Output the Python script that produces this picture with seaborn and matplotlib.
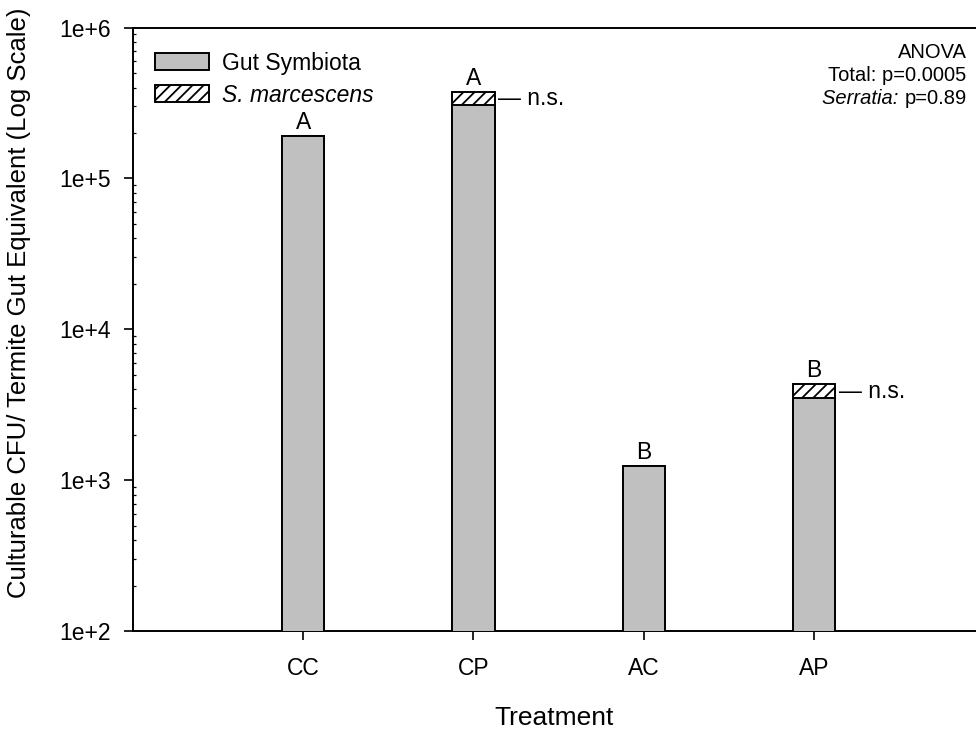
import numpy as np
import pandas as pd
import matplotlib
matplotlib.use("Agg")
import matplotlib.pyplot as plt
from matplotlib.patches import Patch
from matplotlib.ticker import FixedLocator, FuncFormatter, LogLocator
import seaborn as sns

# Culturable CFU per termite gut equivalent, by treatment
treatments = ["CC", "CP", "AC", "AP"]
gut_symbiota = [1.9e5, 3.05e5, 1250, 3500]
s_marcescens = [0, 6.8e4, 0, 830]
letters = ["A", "A", "B", "B"]
ns_flags = [False, True, False, True]

sns.set_style("ticks")
plt.rcParams["font.family"] = ["Liberation Sans", "DejaVu Sans"]
plt.rcParams["text.color"] = "black"
plt.rcParams["axes.labelcolor"] = "black"
plt.rcParams["xtick.color"] = "black"
plt.rcParams["ytick.color"] = "black"
plt.rcParams["axes.edgecolor"] = "black"
plt.rcParams["hatch.linewidth"] = 1.3
plt.rcParams["hatch.color"] = "black"

total = [g + s for g, s in zip(gut_symbiota, s_marcescens)]
df = pd.DataFrame({"Treatment": treatments, "gut": gut_symbiota, "total": total})

fig = plt.figure(figsize=(9.76, 7.34), dpi=100)
ax = fig.add_axes([0.136, 0.1403, 0.864, 0.8222])

GRAY = "#c0c0c0"
BAR_W = 0.25
LW = 1.4
FS = 16.5
HATCH = "///"

# hatched Serratia segment (full stack), then the gut symbiota part over it
sns.barplot(data=df, x="Treatment", y="total", order=treatments, color="white",
            hatch=HATCH, edgecolor="black", linewidth=LW, width=BAR_W,
            saturation=1, ax=ax, zorder=2)
sns.barplot(data=df, x="Treatment", y="gut", order=treatments, color=GRAY,
            edgecolor="black", linewidth=LW, width=BAR_W, saturation=1,
            ax=ax, zorder=3)

ax.set_yscale("log")
ax.set_ylim(1e2, 1e6)
ax.set_xlim(-1, 3.95)

ax.yaxis.set_major_locator(FixedLocator([1e2, 1e3, 1e4, 1e5, 1e6]))
ax.yaxis.set_major_formatter(FuncFormatter(lambda v, _: f"1e+{int(round(np.log10(v)))}"))
ax.yaxis.set_minor_locator(LogLocator(base=10, subs=np.arange(2, 10)))
ax.yaxis.set_minor_formatter(FuncFormatter(lambda v, _: ""))

ax.tick_params(axis="y", which="major", direction="out", length=6.5, width=1.2,
               labelsize=FS, pad=9)
ax.tick_params(axis="y", which="minor", direction="in", length=2.5, width=0.9)
ax.tick_params(axis="x", which="major", direction="out", length=6.5, width=1.2,
               labelsize=FS, pad=12)

for side in ["left", "bottom", "top"]:
    ax.spines[side].set_visible(True)
    ax.spines[side].set_linewidth(1.4)
    ax.spines[side].set_color("black")
ax.spines["right"].set_visible(False)

ax.set_xlabel("Treatment", fontsize=19, labelpad=19)
ax.set_ylabel("Culturable CFU/ Termite Gut Equivalent (Log Scale)", fontsize=18.5)
ax.yaxis.set_label_coords(-0.121, 0.5435)

# significance letters and n.s. marks
for i, (g, t, letter, ns) in enumerate(zip(gut_symbiota, total, letters, ns_flags)):
    ax.annotate(letter, (i, t), xytext=(0, 5), textcoords="offset points",
                ha="center", va="baseline", fontsize=FS)
    if ns:
        ax.annotate("\u2014 n.s.", (i + BAR_W / 2, np.sqrt(g * t)), xytext=(2.5, 0),
                    textcoords="offset points", ha="left", va="center",
                    fontsize=FS)

# ANOVA summary, right aligned in the upper right corner
AFS = 14.5
x_r = 0.989
y0, dy = 0.958, 0.038
ax.text(x_r, y0, "ANOVA", transform=ax.transAxes, ha="right", va="center",
        fontsize=AFS)
ax.text(x_r, y0 - dy, "Total: p=0.0005", transform=ax.transAxes, ha="right",
        va="center", fontsize=AFS)
p_txt = ax.text(x_r, y0 - 2 * dy, "p=0.89", transform=ax.transAxes, ha="right",
                va="center", fontsize=AFS)
fig.canvas.draw()
bb = p_txt.get_window_extent(renderer=fig.canvas.get_renderer())
x_left = ax.transAxes.inverted().transform((bb.x0, bb.y0))[0]
ax.text(x_left, y0 - 2 * dy, "Serratia: ", transform=ax.transAxes, ha="right",
        va="center", fontsize=AFS, fontstyle="italic")

handles = [Patch(facecolor=GRAY, edgecolor="black", linewidth=LW),
           Patch(facecolor="white", edgecolor="black", linewidth=LW, hatch=HATCH)]
leg = ax.legend(handles, ["Gut Symbiota", "S. marcescens"], loc="upper left",
                bbox_to_anchor=(0.026, 0.960), borderaxespad=0, borderpad=0,
                frameon=False, fontsize=FS, handlelength=2.36, handleheight=0.8,
                handletextpad=0.6, labelspacing=0.39)
leg.get_texts()[1].set_fontstyle("italic")

fig.savefig("out.png", dpi=100)
